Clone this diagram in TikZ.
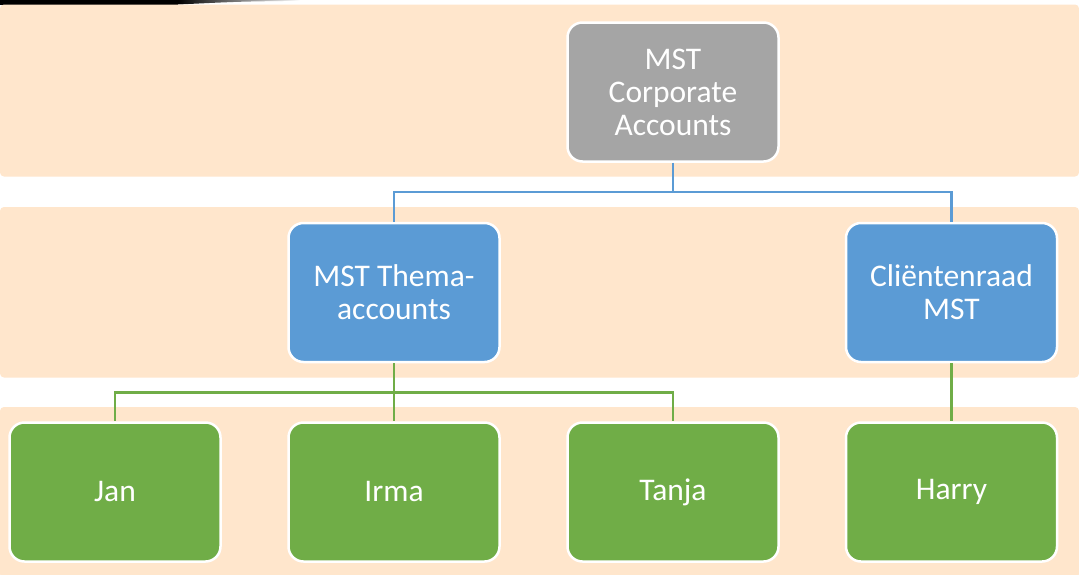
\documentclass[tikz,border=0pt]{standalone}
\usepackage{fontspec}
\setmainfont{Carlito}
\usetikzlibrary{calc}
\definecolor{peach}{HTML}{FFE6CC}
\definecolor{boxgray}{HTML}{A5A5A5}
\definecolor{boxblue}{HTML}{5B9BD5}
\definecolor{boxgreen}{HTML}{70AD47}
\newcommand{\lstrut}{\vphantom{A}}
\tikzset{
  orgbox/.style={draw=white, line width=2.5pt, rounded corners=15pt,
    minimum width=211pt, minimum height=139pt, inner sep=0pt,
    text=white, align=center, font=\fontsize{31.5}{33}\selectfont},
  graybox/.style={orgbox, fill=boxgray},
  bluebox/.style={orgbox, fill=boxblue},
  greenbox/.style={orgbox, fill=boxgreen},
  band/.style={fill=peach, rounded corners=4pt},
  blueline/.style={draw=boxblue, line width=2.5pt},
  greenline/.style={draw=boxgreen, line width=2.5pt}
}
\begin{document}
\begin{tikzpicture}[x=1pt,y=-1pt]
\fill[white] (0,0) rectangle (1079,574);
\useasboundingbox (0,0) rectangle (1079,574);
% dark shape at top-left
\fill[black] (0,0) rectangle (178,4.5);
\shade[left color=black, right color=white] (178,0) -- (300,0) -- (300,0.8) .. controls (240,1.5) .. (178,4.5) -- cycle;
% bands
\fill[band] (0,4.5) -- (1079,4.5) -- (1079,176.5) -- (0,176.5) -- cycle;
\fill[band] (0,207) -- (1079,207) -- (1079,377.5) -- (0,377.5) -- cycle;
\fill[band] (0,407) -- (1079,407) -- (1079,578) -- (0,578) -- cycle;
% nodes
\node[graybox] (g) at (673,92) {\lstrut MST\\Corporate\\Accounts};
\node[bluebox] (t) at (394,292.5) {\lstrut MST Thema-\\accounts};
\node[bluebox] (c) at (951.5,292.5) {\lstrut Cliëntenraad\\MST};
\node[greenbox] (jan) at (115,492) {\lstrut Jan};
\node[greenbox] (irma) at (394,492) {\lstrut Irma};
\node[greenbox] (tanja) at (673,492) {\lstrut Tanja};
\node[greenbox] (harry) at (951.5,492) {\lstrut Harry};
% connectors
\draw[blueline] (g.south) -- ++(0,29) -| (t.north);
\draw[blueline] (g.south) -- ++(0,29) -| (c.north);
\draw[greenline] (t.south) -- ++(0,29) -| (jan.north);
\draw[greenline] (t.south) -- (irma.north);
\draw[greenline] (t.south) -- ++(0,29) -| (tanja.north);
\draw[greenline] (c.south) -- (harry.north);
\end{tikzpicture}
\end{document}
